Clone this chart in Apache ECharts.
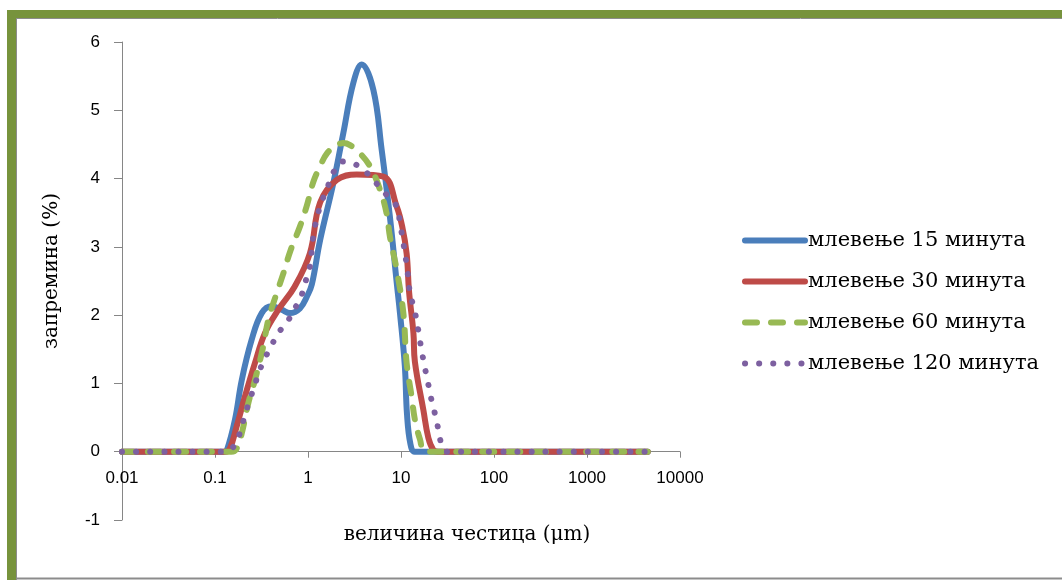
<!DOCTYPE html>
<html>
<head>
<meta charset="utf-8">
<script src="https://cdn.jsdelivr.net/npm/echarts@6/dist/echarts.min.js"></script>
<style>
html,body{margin:0;padding:0;background:#fff;}
#chart{width:1062px;height:580px;}
</style>
</head>
<body>
<div id="chart"></div>
<script>
// Series names
const seriesNames = ['млевење 15 минута', 'млевење 30 минута', 'млевење 60 минута', 'млевење 120 минута'];
// Axis tick labels
const xTickLabels = ['0.01', '0.1', '1', '10', '100', '1000', '10000'];
const yTickLabels = ['-1', '0', '1', '2', '3', '4', '5', '6'];
const xTitle = 'величина честица (μm)';
const yTitle = 'запремина (%)';

// 15 minutes: particle size (µm) and volume (%)
const size15 = [0.01, 0.03, 0.1, 0.125, 0.134, 0.164, 0.194, 0.248, 0.318, 0.407, 0.52, 0.64, 0.82, 0.98, 1.1, 1.35, 1.87, 2.4, 3.07, 3.78, 5.04, 6.2, 7.6, 9.0, 9.75, 11.0, 11.6, 12.6, 14, 20, 100, 1000, 4500];
const vol15  = [0, 0, 0, 0, 0.02, 0.47, 1.05, 1.64, 2.03, 2.13, 2.08, 2.03, 2.1, 2.28, 2.45, 3.1, 3.93, 4.67, 5.4, 5.67, 5.3, 4.42, 3.44, 2.47, 2.03, 1.25, 0.55, 0.12, 0, 0, 0, 0, 0];

// 30 minutes
const size30 = [0.01, 0.03, 0.1, 0.13, 0.145, 0.171, 0.21, 0.269, 0.345, 0.48, 0.72, 1.05, 1.35, 2.04, 3.34, 6.46, 9.0, 10.3, 11.5, 12.2, 13.6, 14.1, 17.4, 19.7, 22.2, 25, 40, 100, 1000, 4500];
const vol30  = [0, 0, 0, 0, 0.05, 0.37, 0.81, 1.3, 1.74, 2.08, 2.42, 2.91, 3.65, 3.98, 4.06, 4.03, 3.59, 3.3, 2.9, 2.35, 1.74, 1.32, 0.61, 0.2, 0.03, 0, 0, 0, 0, 0];

// 60 minutes
const size60 = [0.01, 0.03, 0.1, 0.15, 0.17, 0.194, 0.228, 0.269, 0.33, 0.374, 0.46, 0.54, 0.65, 0.82, 0.97, 1.14, 1.35, 1.6, 2.04, 2.4, 2.83, 3.62, 4.64, 5.94, 7.0, 7.6, 9.0, 10.6, 11.5, 13.0, 14.1, 16.0, 18.1, 30, 100, 1000, 4500];
const vol60  = [0, 0, 0, 0, 0.04, 0.27, 0.71, 1.05, 1.54, 1.93, 2.32, 2.6, 2.95, 3.3, 3.6, 3.95, 4.18, 4.37, 4.49, 4.52, 4.49, 4.37, 4.18, 3.84, 3.49, 3.15, 2.66, 2.03, 1.3, 0.81, 0.47, 0.18, 0, 0, 0, 0, 0];

// 120 minutes
const size120 = [0.01, 0.03, 0.1, 0.134, 0.15, 0.171, 0.194, 0.21, 0.237, 0.265, 0.30, 0.339, 0.40, 0.48, 0.59, 0.71, 0.84, 0.93, 1.05, 1.12, 1.19, 1.28, 1.45, 1.66, 1.87, 2.4, 3.33, 4.4, 5.6, 7.2, 9.0, 9.75, 11.5, 12.5, 13.6, 14.8, 15.7, 16.7, 17.8, 19.2, 20.5, 22.2, 24.2, 25.8, 28.5, 31, 100, 1000, 4500];
const vol120  = [0, 0, 0, 0, 0.04, 0.15, 0.37, 0.54, 0.76, 0.96, 1.18, 1.35, 1.54, 1.74, 1.89, 2.08, 2.27, 2.47, 2.72, 3.08, 3.3, 3.49, 3.71, 3.91, 4.09, 4.25, 4.2, 4.07, 3.91, 3.74, 3.59, 3.35, 2.74, 2.32, 2.13, 1.91, 1.69, 1.48, 1.27, 1.06, 0.86, 0.65, 0.46, 0.23, 0.05, 0, 0, 0, 0];

const colors = ['#4A7EBB', '#BE4B48', '#98B954', '#7D60A0'];

function pairs(xs, ys) { return xs.map((x, i) => [x, ys[i]]); }
const allData = [pairs(size15, vol15), pairs(size30, vol30), pairs(size60, vol60), pairs(size120, vol120)];
const lineTypes = ['solid', 'solid', [12, 14], [0.1, 14]];

const gridTop = 42, gridBottom = 60, chartH = 580;
const yMin = -1, yMax = 6;
const plotH = chartH - gridTop - gridBottom;
const zeroOffset = -plotH * (0 - yMin) / (yMax - yMin);

const chart = echarts.init(document.getElementById('chart'), null, {renderer: 'canvas'});
const axisColor = '#868686';
const serif = 'DejaVu Serif';
const option = {
  backgroundColor: '#ffffff',
  animation: false,
  color: colors,
  grid: {left: 122, right: 382, top: gridTop, bottom: gridBottom, containLabel: false, outerBoundsMode: 'none'},
  xAxis: {
    type: 'log', logBase: 10, min: 0.01, max: 10000,
    offset: zeroOffset,
    axisLine: {onZero: false, lineStyle: {color: axisColor, width: 1}},
    axisTick: {show: true, length: 6, lineStyle: {color: axisColor}},
    axisLabel: {
      fontFamily: 'Liberation Sans', fontSize: 17, color: '#000', margin: 18,
      formatter: function (v) {
        const idx = Math.round(Math.log10(v)) + 2;
        return xTickLabels[idx] !== undefined ? xTickLabels[idx] : '';
      }
    },
    splitLine: {show: false}, minorTick: {show: false}
  },
  yAxis: {
    type: 'value', min: yMin, max: yMax, interval: 1,
    axisLine: {show: true, lineStyle: {color: axisColor, width: 1}},
    axisTick: {show: true, length: 8, lineStyle: {color: axisColor}},
    axisLabel: {
      fontFamily: 'Liberation Sans', fontSize: 17, color: '#000', margin: 22,
      formatter: function (v) { const idx = Math.round(v) + 1; return yTickLabels[idx]; }
    },
    splitLine: {show: false}
  },
  legend: {
    orient: 'vertical', left: 742, top: 230, padding: 0, itemWidth: 60, itemHeight: 14, itemGap: 20,
    itemStyle: {color: 'rgba(0,0,0,0)', borderWidth: 0, opacity: 0},
    lineStyle: {width: 6, cap: 'round'},
    textStyle: {fontFamily: serif, fontSize: 21, color: '#000', lineHeight: 20, padding: [0, 0, 0, -2]},
    data: seriesNames
  },
  series: seriesNames.map((name, i) => ({
    name: name, type: 'line', data: allData[i], smooth: 0.4,
    symbol: 'none', showSymbol: false, clip: false,
    lineStyle: {color: colors[i], width: 6, type: lineTypes[i], cap: 'round', join: 'round'},
    itemStyle: {color: colors[i]}
  })),
  graphic: [
    {type: 'text', x: 52, y: 271, rotation: Math.PI / 2,
     style: {text: yTitle, fontFamily: serif, fontSize: 20, fill: '#000', align: 'center', verticalAlign: 'middle'}},
    {type: 'text', x: 467, y: 535,
     style: {text: xTitle, fontFamily: serif, fontSize: 20, fill: '#000', align: 'center', verticalAlign: 'middle'}},
    {type: 'rect', z: 100, shape: {x: 7, y: 10, width: 1055, height: 8}, style: {fill: '#77933C'}},
    {type: 'rect', z: 100, shape: {x: 7, y: 10, width: 9, height: 570}, style: {fill: '#77933C'}},
    {type: 'line', z: 100, shape: {x1: 16, y1: 18.5, x2: 1062, y2: 18.5}, style: {stroke: '#8c8c8c', lineWidth: 1}},
    {type: 'line', z: 100, shape: {x1: 16.5, y1: 18, x2: 16.5, y2: 580}, style: {stroke: '#8c8c8c', lineWidth: 1}},
    {type: 'line', z: 100, shape: {x1: 16, y1: 578.5, x2: 1062, y2: 578.5}, style: {stroke: '#8c8c8c', lineWidth: 2}}
  ]
};
chart.setOption(option);
</script>
</body>
</html>
